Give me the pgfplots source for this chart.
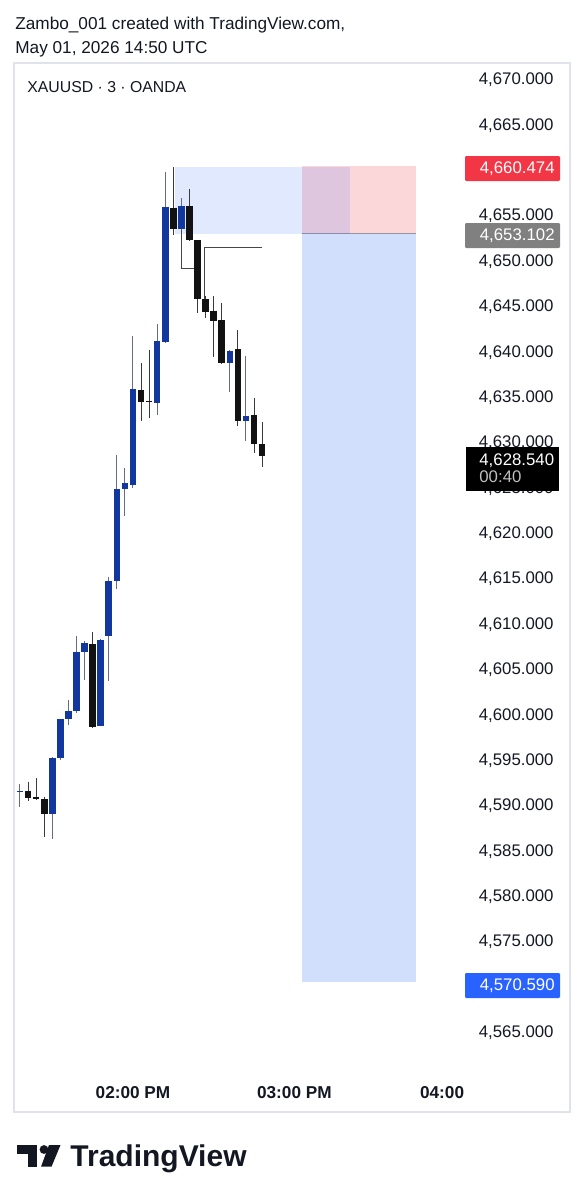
\documentclass[border=0pt]{standalone}
\usepackage{pgfplots}
\pgfplotsset{compat=1.18}
\usepackage{pgfplotstable}
\usepackage{fontspec}
\setmainfont{Liberation Sans}
\definecolor{tvtext}{HTML}{131722}
\definecolor{tvborder}{HTML}{E0E3EB}
\definecolor{upbody}{RGB}{18,56,160}
\definecolor{upwick}{RGB}{100,108,135}
\definecolor{dnbody}{HTML}{121212}
\definecolor{dnwick}{HTML}{3A3A3A}
\definecolor{stopfill}{RGB}{252,215,218}
\definecolor{targetfill}{RGB}{210,223,252}
\definecolor{rectblue}{RGB}{41,98,255}
\definecolor{tvred}{HTML}{F23645}
\definecolor{tvgray}{HTML}{808080}
\definecolor{tvbluebox}{HTML}{2962FF}
\definecolor{linegray}{HTML}{434651}
\definecolor{entrygray}{HTML}{9A93A0}

% up (blue) candles: index, open, high, low, close
\pgfplotstableread{
i o h l c
0 4591.50 4592.43 4589.87 4591.66
4 4589.13 4595.41 4586.37 4595.30
5 4595.30 4599.59 4595.08 4599.59
6 4599.59 4601.69 4598.93 4600.51
7 4600.51 4608.77 4600.25 4607.01
8 4606.94 4608.20 4603.89 4608.00
10 4598.86 4608.40 4598.80 4608.30
11 4608.74 4615.27 4603.78 4614.83
12 4614.83 4628.68 4613.88 4624.90
13 4624.90 4627.22 4621.96 4625.56
14 4625.38 4641.83 4625.01 4635.92
17 4634.44 4643.12 4633.09 4641.28
18 4641.17 4659.90 4641.02 4656.04
20 4653.55 4656.97 4653.50 4656.12
26 4638.79 4640.20 4635.66 4640.17
28 4632.46 4639.59 4630.26 4633.01
}\upcandles
% down (black) candles
\pgfplotstableread{
i o h l c
1 4591.69 4592.69 4590.59 4590.86
2 4591.00 4593.06 4590.67 4590.78
3 4590.75 4591.00 4586.63 4589.13
9 4607.86 4609.15 4598.60 4598.75
15 4635.84 4638.85 4632.43 4634.56
16 4634.66 4640.25 4632.73 4634.50
19 4655.93 4660.38 4652.92 4653.55
21 4656.12 4657.96 4652.26 4652.37
22 4652.37 4652.40 4644.29 4645.84
23 4645.84 4646.23 4643.74 4644.44
24 4644.58 4646.23 4639.45 4643.48
25 4643.56 4645.46 4638.75 4638.79
27 4640.36 4642.45 4631.91 4632.46
29 4633.09 4634.93 4628.87 4629.89
30 4629.89 4632.29 4627.33 4628.54
}\dncandles

\begin{document}
\begin{tikzpicture}
\path[use as bounding box] (0pt,0pt) rectangle (291.5pt,-600pt);
\begin{axis}[
  at={(7pt,-556pt)}, anchor=south west,
  scale only axis, width=278pt, height=524.5pt,
  xmin=-0.743, xmax=68.15, ymin=4556.29, ymax=4671.87,
  axis line style={draw=tvborder, line width=0.6pt},
  major tick length=0pt,
  ytick={4565,4570,...,4670},
  yticklabel pos=right,
  scaled y ticks=false,
  yticklabel style={anchor=east, xshift=-8pt, inner sep=0pt, text=tvtext,
    font=\fontsize{8.4}{10}\selectfont,
    /pgf/number format/fixed, /pgf/number format/fixed zerofill,
    /pgf/number format/precision=3, /pgf/number format/1000 sep={,},
    /pgf/number format/assume math mode=true},
  xtick={14,34,52.3},
  xticklabels={02:00 PM,03:00 PM,04:00},
  xticklabel style={anchor=center, yshift=9.5pt, text=tvtext,
    font=\bfseries\fontsize{8.6}{10}\selectfont},
]
% short position: stop and target zones
\addplot[fill=stopfill, draw=none] coordinates {(34.94,4653.102) (49.07,4653.102) (49.07,4660.474) (34.94,4660.474)};
\addplot[fill=targetfill, draw=none] coordinates {(34.94,4570.590) (49.07,4570.590) (49.07,4653.102) (34.94,4653.102)};
\addplot[draw=entrygray, line width=0.5pt] coordinates {(34.94,4653.102) (49.07,4653.102)};
% highlight rectangle
\addplot[fill=rectblue, fill opacity=0.14, draw=none] coordinates {(19.21,4653.0) (40.89,4653.0) (40.89,4660.40) (19.21,4660.40)};
% drawn lines
\addplot[draw=linegray, line width=0.5pt] coordinates {(20.07,4653.5) (20.07,4649.18) (21.69,4649.18)};
\addplot[draw=linegray, line width=0.5pt] coordinates {(22.92,4645.84) (22.92,4651.49) (29.99,4651.49)};
% wicks
\addplot[draw=none, mark=none, error bars/.cd, y dir=minus, y explicit, error mark=none,
  error bar style={draw=upwick, line width=0.5pt}]
  table[x=i, y=h, y error minus expr=\thisrow{h}-\thisrow{l}] {\upcandles};
\addplot[draw=none, mark=none, error bars/.cd, y dir=minus, y explicit, error mark=none,
  error bar style={draw=dnwick, line width=0.5pt}]
  table[x=i, y=h, y error minus expr=\thisrow{h}-\thisrow{l}] {\dncandles};
% bodies
\addplot[draw=none, mark=none, error bars/.cd, y dir=minus, y explicit, error mark=none,
  error bar style={draw=upbody, line width=3.3pt}]
  table[x=i, y=c, y error minus expr=\thisrow{c}-\thisrow{o}] {\upcandles};
\addplot[draw=none, mark=none, error bars/.cd, y dir=minus, y explicit, error mark=none,
  error bar style={draw=dnbody, line width=3.3pt}]
  table[x=i, y=o, y error minus expr=\thisrow{o}-\thisrow{c}] {\dncandles};
\end{axis}
\begin{scope}[x=0.5pt,y=-0.5pt]
% header
\node[anchor=base west, inner sep=0pt, text=tvtext, font=\fontsize{8.6}{10}\selectfont] at (15,29) {Zambo\_001 created with TradingView.com,};
\node[anchor=base west, inner sep=0pt, text=tvtext, font=\fontsize{8.6}{10}\selectfont] at (15,53) {May 01, 2026 14:50 UTC};
\node[anchor=base west, inner sep=0pt, text=tvtext, font=\fontsize{7.9}{10}\selectfont] at (27,92.5) {XAUUSD · 3 · OANDA};
% price boxes
\fill[tvred, rounded corners=0.6pt] (465,156) rectangle (560,181);
\node[anchor=base east, inner sep=0pt, text=white, font=\fontsize{8.4}{10}\selectfont] at (555,173) {4,660.474};
\fill[tvgray, rounded corners=0.6pt] (465,223) rectangle (560,248);
\node[anchor=base east, inner sep=0pt, text=white, font=\fontsize{8.4}{10}\selectfont] at (555,240.5) {4,653.102};
\fill[black] (466,447) rectangle (559,491);
\node[anchor=base west, inner sep=0pt, text=white, font=\fontsize{8.4}{10}\selectfont] at (479,465.7) {4,628.540};
\node[anchor=base west, inner sep=0pt, text=black!25, font=\fontsize{8.4}{10}\selectfont] at (479,482.3) {00:40};
\fill[tvbluebox, rounded corners=0.6pt] (465,973) rectangle (560,998);
\node[anchor=base east, inner sep=0pt, text=white, font=\fontsize{8.4}{10}\selectfont] at (555,990.5) {4,570.590};
% logo
\fill[tvtext] (17,1145) rectangle (37.4,1153.5);
\fill[tvtext] (28,1145) rectangle (37.4,1166.7);
\fill[tvtext] (44,1149.5) circle (4.4);
\fill[tvtext] (49,1145) -- (60.5,1145) -- (51.5,1166.7) -- (41,1166.7) -- cycle;
\node[anchor=base west, inner sep=0pt, text=tvtext, font=\bfseries\fontsize{15}{16}\selectfont] at (70,1166.7) {TradingView};
\end{scope}
\end{tikzpicture}
\end{document}
